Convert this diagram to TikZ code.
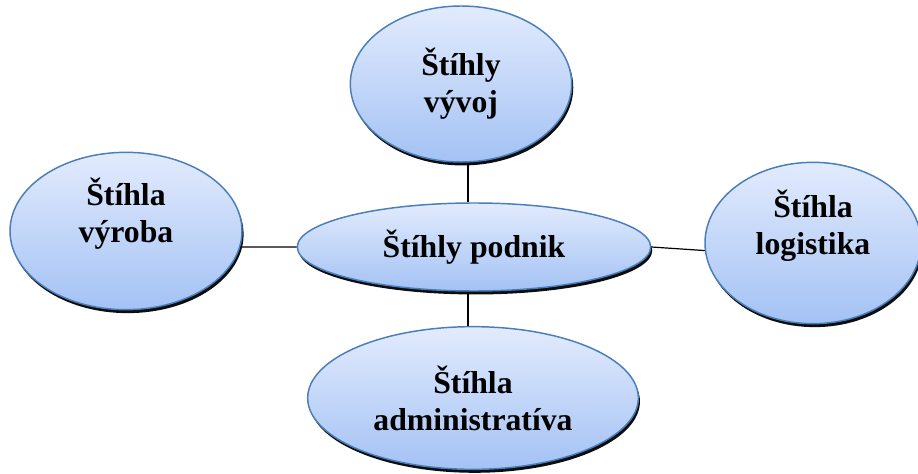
\documentclass[tikz,border=0pt]{standalone}
\usepackage{fontspec}
\setmainfont{Liberation Serif}
\usetikzlibrary{shapes.geometric, shadows}
\definecolor{lean top}{RGB}{226,235,253}
\definecolor{lean bottom}{RGB}{164,194,244}
\definecolor{lean edge}{RGB}{74,126,187}
\tikzset{
  leanblob/.style 2 args={ellipse, draw=lean edge, line width=1.1pt,
    top color=lean top, bottom color=lean bottom,
    minimum width=#1, minimum height=#2, inner sep=0pt, align=center,
    font=\fontsize{23.8}{27.8}\selectfont\bfseries,
    drop shadow={shadow xshift=1.2pt, shadow yshift=-2.6pt,
                 fill=black, opacity=0.95}},
  link/.style={draw=black, line width=0.9pt}
}

\begin{document}
\begin{tikzpicture}[x=0.75pt, y=-0.75pt]
\useasboundingbox (0,0) rectangle (918,474);

% --- the whole company in the middle ---------------------------------------
\node[leanblob={265pt}{66pt}] (podnik) at (474,247) {Štíhly podnik};

% --- the four lean areas round it -------------------------------------------
\node[leanblob={166pt}{117pt}] (vyvoj) at (461,84) {Štíhly\\vývoj};
\node[leanblob={174pt}{118pt}] (vyroba) at (126,231) {Štíhla\\výroba\\[4pt]};
\node[leanblob={162pt}{121pt}] (logistika) at (813,243) {Štíhla\\logistika\\[4pt]};
\node[leanblob={248pt}{107pt}] (admin) at (473,398) {Štíhla\\administratíva};

% --- connectors -------------------------------------------------------------
\coordinate (axis) at (468,0);
\draw[link] (vyvoj.south -| axis) -- (podnik.north -| axis);
\draw[link] (admin.north -| axis) -- (podnik.south -| axis);
\draw[link] (vyroba.-8) -- (podnik.west);
\draw[link] (podnik.east) -- (logistika.184);

\end{tikzpicture}
\end{document}
